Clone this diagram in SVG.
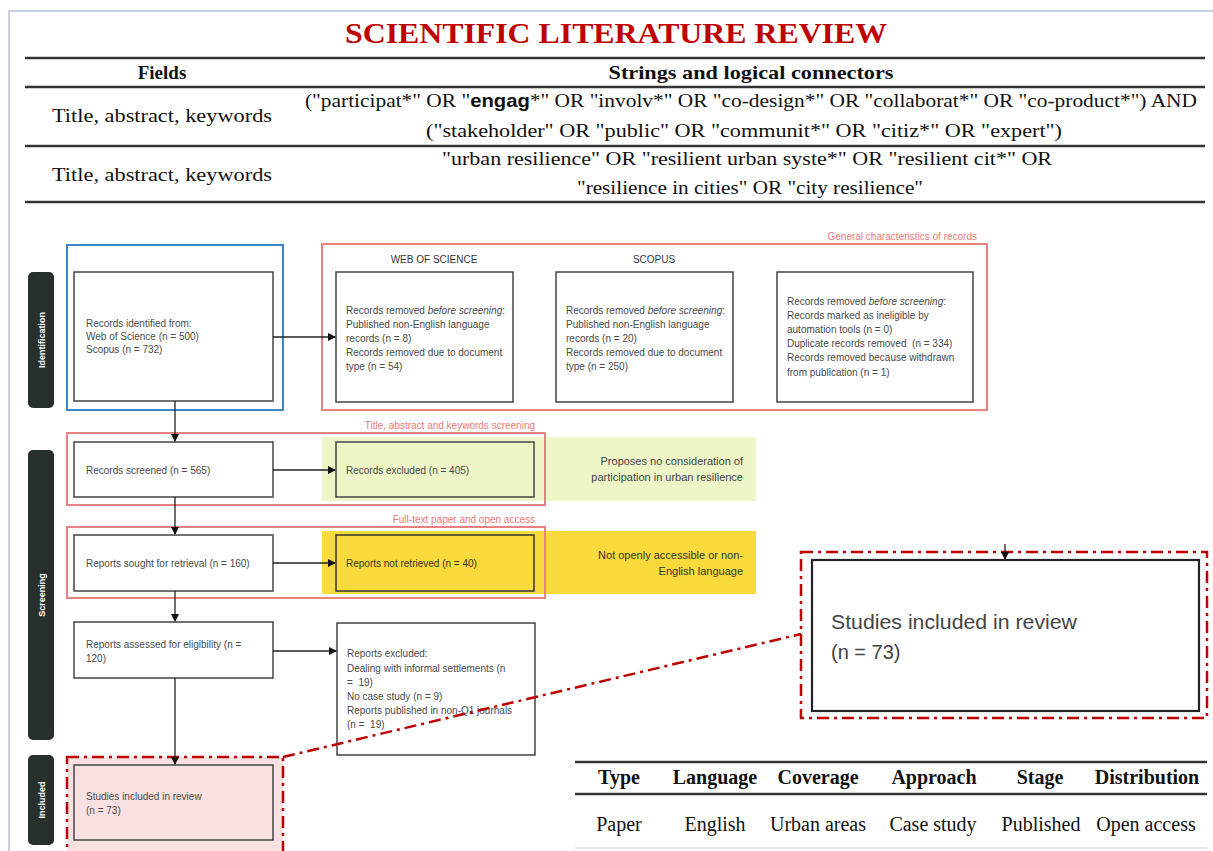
<svg xmlns="http://www.w3.org/2000/svg" width="1213" height="851" viewBox="0 0 1213 851">
<defs>
<marker id="arr" markerWidth="8" markerHeight="8" refX="7" refY="4" orient="auto" markerUnits="userSpaceOnUse">
<path d="M0,0 L8,4 L0,8 Z" fill="#111"/>
</marker>
<style>
.serif{font-family:"Liberation Serif","Times New Roman",serif;fill:#111}
.sans{font-family:"Liberation Sans",Arial,sans-serif;font-size:10px;fill:#4a4a4a}
.s11{font-size:11px}
.s20{font-size:20px}
.box{fill:#fff;stroke:#444;stroke-width:1.5}
.grp{fill:none;stroke:#ea8080;stroke-width:2}
.grpl{font-family:"Liberation Sans",Arial,sans-serif;font-size:10px;fill:#f07878}
.side{fill:#28302c}
.sidet{font-family:"Liberation Sans",Arial,sans-serif;font-size:9px;font-weight:bold;fill:#fff}
.rule{stroke:#333;stroke-width:2.5}
.dd{fill:none;stroke:#c00000;stroke-width:2.5;stroke-dasharray:12 5 3 5}
.conn{stroke:#222;stroke-width:1.3;fill:none}
</style>
</defs>
<rect width="1213" height="851" fill="#fff"/>
<g id="frame">
<line x1="8" y1="11" x2="1213" y2="11" stroke="#c8d0e2" stroke-width="2"/>
<line x1="9" y1="11" x2="9" y2="851" stroke="#c8d0e2" stroke-width="2"/>
</g>
<g id="title">
<text x="616" y="43" text-anchor="middle" font-family="Liberation Serif, Times New Roman, serif" font-size="30" font-weight="bold" fill="#c00000" textLength="542" lengthAdjust="spacingAndGlyphs">SCIENTIFIC LITERATURE REVIEW</text>
</g>
<g id="search-table">
<line class="rule" x1="25" y1="58" x2="1205" y2="58"/>
<line class="rule" x1="25" y1="87" x2="1205" y2="87"/>
<line class="rule" x1="25" y1="146" x2="1205" y2="146"/>
<line class="rule" x1="25" y1="202" x2="1205" y2="202"/>
<text class="serif" x="162" y="79" text-anchor="middle" font-size="19" font-weight="bold">Fields</text>
<text class="serif" x="751" y="79" text-anchor="middle" font-size="19" font-weight="bold" textLength="285" lengthAdjust="spacingAndGlyphs">Strings and logical connectors</text>
<text class="serif" x="162" y="122" text-anchor="middle" font-size="19" textLength="220" lengthAdjust="spacingAndGlyphs">Title, abstract, keywords</text>
<text class="serif" x="751" y="107" text-anchor="middle" font-size="19" textLength="892" lengthAdjust="spacingAndGlyphs">("participat*" OR "<tspan font-weight="bold" font-family="Liberation Sans, Arial, sans-serif" font-size="18">engag</tspan>*" OR "involv*" OR "co-design*" OR "collaborat*" OR "co-product*") AND</text>
<text class="serif" x="744" y="137" text-anchor="middle" font-size="19" textLength="636" lengthAdjust="spacingAndGlyphs">("stakeholder" OR "public" OR "communit*" OR "citiz*" OR "expert")</text>
<text class="serif" x="162" y="181" text-anchor="middle" font-size="19" textLength="220" lengthAdjust="spacingAndGlyphs">Title, abstract, keywords</text>
<text class="serif" x="747" y="165" text-anchor="middle" font-size="19" textLength="610" lengthAdjust="spacingAndGlyphs">"urban resilience" OR "resilient urban syste*" OR "resilient cit*" OR</text>
<text class="serif" x="750" y="194" text-anchor="middle" font-size="19" textLength="346" lengthAdjust="spacingAndGlyphs">"resilience in cities" OR "city resilience"</text>
</g>
<g id="side-labels">
<rect class="side" x="28" y="272" width="26" height="136" rx="5"/>
<text class="sidet" transform="translate(44.5,340) rotate(-90)" text-anchor="middle">Identification</text>
<rect class="side" x="28" y="450" width="26" height="290" rx="5"/>
<text class="sidet" transform="translate(44.5,595) rotate(-90)" text-anchor="middle">Screening</text>
<rect class="side" x="28" y="755" width="26" height="90" rx="5"/>
<text class="sidet" transform="translate(44.5,800) rotate(-90)" text-anchor="middle">Included</text>
</g>
<g id="identification-group">
<rect x="67" y="245" width="216" height="165" fill="none" stroke="#3a86c8" stroke-width="2"/>
</g>
<g id="records-identified">
<rect class="box" x="74" y="272" width="199" height="129"/>
<text class="sans" x="86" y="327">Records identified from:</text>
<text class="sans" x="86" y="340">Web of Science (n = 500)</text>
<text class="sans" x="86" y="353">Scopus (n = 732)</text>
</g>
<g id="general-characteristics">
<rect class="grp" x="322" y="244" width="665" height="166"/>
<text class="grpl" x="977" y="240" text-anchor="end">General characteristics of records</text>
<text class="sans" x="434" y="263" text-anchor="middle" style="fill:#333">WEB OF SCIENCE</text>
<text class="sans" x="654" y="263" text-anchor="middle" style="fill:#333">SCOPUS</text>
</g>
<g id="wos-removed">
<rect class="box" x="336" y="272" width="177" height="130"/>
<text class="sans" x="346" y="314">Records removed <tspan font-style="italic">before screening</tspan>:</text>
<text class="sans" x="346" y="328">Published non-English language</text>
<text class="sans" x="346" y="342">records (n = 8)</text>
<text class="sans" x="346" y="356">Records removed due to document</text>
<text class="sans" x="346" y="370">type (n = 54)</text>
</g>
<g id="scopus-removed">
<rect class="box" x="556" y="272" width="177" height="130"/>
<text class="sans" x="566" y="314">Records removed <tspan font-style="italic">before screening</tspan>:</text>
<text class="sans" x="566" y="328">Published non-English language</text>
<text class="sans" x="566" y="342">records (n = 20)</text>
<text class="sans" x="566" y="356">Records removed due to document</text>
<text class="sans" x="566" y="370">type (n = 250)</text>
</g>
<g id="other-removed">
<rect class="box" x="777" y="272" width="196" height="130"/>
<text class="sans" x="787" y="305">Records removed <tspan font-style="italic">before screening</tspan>:</text>
<text class="sans" x="787" y="319">Records marked as ineligible by</text>
<text class="sans" x="787" y="333">automation tools (n = 0)</text>
<text class="sans" x="787" y="347" xml:space="preserve">Duplicate records removed  (n = 334)</text>
<text class="sans" x="787" y="361">Records removed because withdrawn</text>
<text class="sans" x="787" y="376">from publication (n = 1)</text>
</g>
<g id="tak-screening">
<rect x="322" y="437" width="434" height="64" fill="#eef6c8"/>
<rect class="grp" x="67" y="433" width="478" height="72"/>
<text class="grpl" x="535" y="429" text-anchor="end">Title, abstract and keywords screening</text>
<text class="sans s11" x="743" y="465" text-anchor="end" style="fill:#444">Proposes no consideration of</text>
<text class="sans s11" x="743" y="481" text-anchor="end" style="fill:#444">participation in urban resilience</text>
</g>
<g id="records-screened">
<rect class="box" x="74" y="442" width="199" height="55"/>
<text class="sans" x="86" y="474">Records screened (n = 565)</text>
</g>
<g id="records-excluded">
<rect class="box" x="336" y="442" width="198" height="55" style="fill:#eef6c8"/>
<text class="sans" x="346" y="474">Records excluded (n = 405)</text>
</g>
<g id="fulltext-group">
<rect x="322" y="531" width="434" height="63" fill="#f9da3c"/>
<rect class="grp" x="67" y="527" width="478" height="71"/>
<text class="grpl" x="535" y="523" text-anchor="end">Full-text paper and open access</text>
<text class="sans s11" x="743" y="559" text-anchor="end" style="fill:#333">Not openly accessible or non-</text>
<text class="sans s11" x="743" y="575" text-anchor="end" style="fill:#333">English language</text>
</g>
<g id="reports-sought">
<rect class="box" x="74" y="535" width="199" height="56"/>
<text class="sans" x="86" y="567">Reports sought for retrieval (n = 160)</text>
</g>
<g id="reports-not-retrieved">
<rect class="box" x="336" y="535" width="198" height="56" style="fill:#f9da3c;stroke:#333"/>
<text class="sans" x="346" y="567" style="fill:#333">Reports not retrieved (n = 40)</text>
</g>
<g id="reports-assessed">
<rect class="box" x="74" y="622" width="199" height="56"/>
<text class="sans" x="86" y="648">Reports assessed for eligibility (n =</text>
<text class="sans" x="86" y="662">120)</text>
</g>
<g id="reports-excluded">
<rect class="box" x="337" y="623" width="198" height="132"/>
<text class="sans" x="347" y="657">Reports excluded:</text>
<text class="sans" x="347" y="672">Dealing with informal settlements (n</text>
<text class="sans" x="347" y="686" xml:space="preserve">=  19)</text>
<text class="sans" x="347" y="700">No case study (n = 9)</text>
<text class="sans" x="347" y="714">Reports published in non-Q1 journals</text>
<text class="sans" x="347" y="728" xml:space="preserve">(n =  19)</text>
</g>
<g id="included-small">
<rect x="67" y="757" width="216" height="100" fill="#f9e1e1"/>
<rect class="dd" x="67" y="757" width="216" height="100"/>
<rect class="box" x="74" y="765" width="199" height="75" style="fill:#f9e1e1"/>
<text class="sans" x="86" y="800">Studies included in review</text>
<text class="sans" x="86" y="814">(n = 73)</text>
</g>
<g id="included-large">
<rect class="dd" x="801" y="552" width="406" height="166"/>
<rect x="812" y="560" width="387" height="151" fill="#fff" stroke="#222" stroke-width="2.2"/>
<text class="sans s20" x="831" y="629" style="fill:#444" textLength="246" lengthAdjust="spacingAndGlyphs">Studies included in review</text>
<text class="sans s20" x="831" y="659" style="fill:#444">(n = 73)</text>
</g>
<g id="result-table">
<line class="rule" x1="575" y1="762" x2="1207" y2="762"/>
<line class="rule" x1="575" y1="794" x2="1207" y2="794"/>
<line x1="575" y1="848" x2="1207" y2="848" stroke="#ddd" stroke-width="1.5"/>
<g class="serif" font-size="20" font-weight="bold" text-anchor="middle">
<text x="619" y="784">Type</text>
<text x="715" y="784">Language</text>
<text x="818" y="784">Coverage</text>
<text x="934" y="784">Approach</text>
<text x="1040" y="784">Stage</text>
<text x="1147" y="784">Distribution</text>
</g>
<g class="serif" font-size="20" text-anchor="middle">
<text x="619" y="831">Paper</text>
<text x="715" y="831">English</text>
<text x="818" y="831">Urban areas</text>
<text x="933" y="831">Case study</text>
<text x="1041" y="831">Published</text>
<text x="1146" y="831">Open access</text>
</g>
</g>
<g id="connectors">
<line class="conn" x1="273" y1="337" x2="335" y2="337" marker-end="url(#arr)"/>
<line class="conn" x1="175" y1="401" x2="175" y2="441" marker-end="url(#arr)"/>
<line class="conn" x1="273" y1="470" x2="335" y2="470" marker-end="url(#arr)"/>
<line class="conn" x1="175" y1="497" x2="175" y2="534" marker-end="url(#arr)"/>
<line class="conn" x1="273" y1="563" x2="335" y2="563" marker-end="url(#arr)"/>
<line class="conn" x1="175" y1="591" x2="175" y2="621" marker-end="url(#arr)"/>
<line class="conn" x1="273" y1="651" x2="336" y2="651" marker-end="url(#arr)"/>
<line class="conn" x1="175" y1="678" x2="175" y2="764" marker-end="url(#arr)"/>
<line class="conn" x1="1005" y1="544" x2="1005" y2="559" marker-end="url(#arr)"/>
<line class="dd" x1="283" y1="757" x2="801" y2="634"/>
</g>
</svg>
